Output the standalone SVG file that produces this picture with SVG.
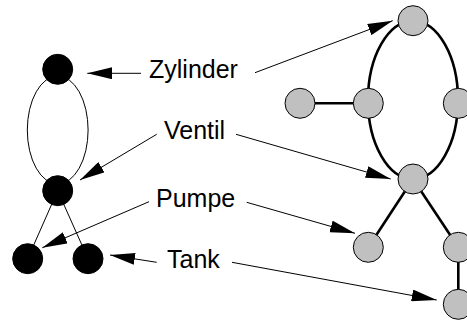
<svg xmlns="http://www.w3.org/2000/svg" width="467" height="325" viewBox="0 0 467 325">
<style>
.bn{fill:#000;stroke:#000;stroke-width:1}
.gn{fill:#c0c0c0;stroke:#000;stroke-width:1}
.thin{fill:none;stroke:#000;stroke-width:1}
.thick{fill:none;stroke:#000;stroke-width:2.6}
.arr{fill:none;stroke:#000;stroke-width:1;marker-end:url(#ah)}
text{font-family:"Liberation Sans",Arial,sans-serif;font-size:25px;fill:#000}
</style>
<defs>
<marker id="ah" markerUnits="userSpaceOnUse" markerWidth="25" markerHeight="12" refX="25" refY="6" orient="auto" viewBox="0 0 25 12">
<path d="M0,0 L25,6 L0,12 z" fill="#000"/>
</marker>
</defs>
<rect width="467" height="325" fill="#fff"/>
<g id="connectors">
<ellipse class="thin" cx="57.7" cy="130" rx="30.4" ry="54"/>
<line class="thin" x1="57.7" y1="190.7" x2="27.7" y2="258.7"/>
<line class="thin" x1="57.7" y1="190.7" x2="88" y2="258.7"/>
<ellipse class="thick" cx="413" cy="100" rx="45" ry="79"/>
<line class="thick" x1="300" y1="103.3" x2="368.3" y2="103.3"/>
<line class="thick" x1="413" y1="179" x2="368.3" y2="247.3"/>
<line class="thick" x1="413" y1="179" x2="458.3" y2="247.3"/>
<line class="thick" x1="458.3" y1="247.3" x2="458.3" y2="304.3"/>
<line class="arr" x1="141" y1="73.3" x2="87.3" y2="73.3"/>
<line class="arr" x1="255" y1="72.7" x2="392.7" y2="20.7"/>
<line class="arr" x1="156.7" y1="134.3" x2="80" y2="180"/>
<line class="arr" x1="236" y1="134.3" x2="390.7" y2="179"/>
<line class="arr" x1="149" y1="201.7" x2="42.3" y2="247.7"/>
<line class="arr" x1="246.7" y1="202.3" x2="355" y2="233.3"/>
<line class="arr" x1="156.7" y1="262.3" x2="110" y2="255"/>
<line class="arr" x1="232" y1="262.3" x2="436.7" y2="300"/>
</g>
<g id="b_zyl"><circle class="bn" cx="57.7" cy="69.3" r="15"/></g>
<g id="b_ven"><circle class="bn" cx="57.7" cy="190.7" r="15"/></g>
<g id="b_pum"><circle class="bn" cx="27.7" cy="258.7" r="15"/></g>
<g id="b_tank"><circle class="bn" cx="88" cy="258.7" r="15"/></g>
<g id="g_top"><circle class="gn" cx="413" cy="20.7" r="15"/></g>
<g id="g_ml"><circle class="gn" cx="300" cy="103.3" r="15"/></g>
<g id="g_m"><circle class="gn" cx="368.3" cy="103.3" r="15"/></g>
<g id="g_mr"><circle class="gn" cx="458.3" cy="103.3" r="15"/></g>
<g id="g_c"><circle class="gn" cx="413" cy="179" r="15"/></g>
<g id="g_ll"><circle class="gn" cx="368.3" cy="247.3" r="15"/></g>
<g id="g_lr"><circle class="gn" cx="458.3" cy="247.3" r="15"/></g>
<g id="g_b"><circle class="gn" cx="458.3" cy="304.3" r="15"/></g>
<g id="labels">
<text x="149" y="77.5">Zylinder</text>
<text x="164" y="138.5">Ventil</text>
<text x="156" y="206.5">Pumpe</text>
<text x="167" y="268">Tank</text>
</g>
</svg>
